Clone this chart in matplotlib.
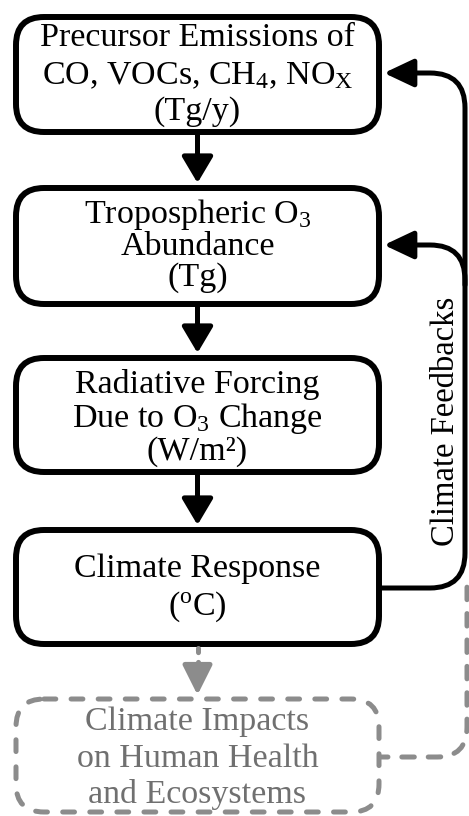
#!/usr/bin/env python

# imports
import matplotlib as mpl
from matplotlib import pyplot as plt
from matplotlib.patches import FancyBboxPatch, FancyArrowPatch, PathPatch, ArrowStyle
from matplotlib.path import Path

mpl.rcParams['font.family'] = ['Liberation Serif', 'DejaVu Serif']
mpl.rcParams['mathtext.fontset'] = 'custom'
mpl.rcParams['mathtext.rm'] = 'Liberation Serif'
mpl.rcParams['mathtext.it'] = 'Liberation Serif:italic'
mpl.rcParams['mathtext.bf'] = 'Liberation Serif:bold'
mpl.rcParams['lines.scale_dashes'] = False

# box contents, top to bottom
emission_lines = ["Precursor Emissions of",
                  r"CO, VOCs, CH$_\mathrm{4}$, NO$_\mathrm{X}$",
                  "(Tg/y)"]
ozone_lines = [r"Tropospheric O$_\mathrm{3}$", "Abundance", "(Tg)"]
forcing_lines = ["Radiative Forcing", r"Due to O$_\mathrm{3}$ Change", "(W/m²)"]
response_lines = ["Climate Response", r"($^\mathrm{o}$C)"]
impact_lines = ["Climate Impacts", "on Human Health", "and Ecosystems"]
box_lines = [emission_lines, ozone_lines, forcing_lines, response_lines, impact_lines]
feedback_label = "Climate Feedbacks"

# layout, in pixels, y grows downwards
W, H = 469, 816
BOX_X0, BOX_X1 = 16, 379
XC = 0.5*(BOX_X0 + BOX_X1)
BOX_Y = [(17, 132), (188, 304), (358, 472), (530, 644), (699, 812)]
BASELINES = [[46, 84, 120], [223, 255, 286], [393, 427, 460], [577, 615], [730, 767, 803]]
RADIUS = 28
FONTSIZE = 24.5
LW_BOX = 4.3
LW_LINE = 3.6
GREY = '#8c8c8c'
GREY_TEXT = '#707070'
BLACK_HEAD = ArrowStyle('-|>', head_length=16, head_width=9.5)
LOOP_HEAD = ArrowStyle('-|>', head_length=18, head_width=8.5)
GREY_HEAD = ArrowStyle('-|>', head_length=18, head_width=9)
DASH_BOX = (0, (8.5, 11))
DASH_LINE = (4, (9, 10))

fig = plt.figure(figsize=(W/100., H/100.), dpi=100)
ax = fig.add_axes([0, 0, 1, 1])
ax.set_xlim(0, W)
ax.set_ylim(H, 0)
ax.axis('off')

# boxes and their text
for i, (lines, (y0, y1), bases) in enumerate(zip(box_lines, BOX_Y, BASELINES)):
    last = (i == len(box_lines) - 1)
    box = FancyBboxPatch((BOX_X0, y0), BOX_X1 - BOX_X0, y1 - y0,
                         boxstyle="round,pad=0,rounding_size=%d" % RADIUS,
                         facecolor='white',
                         edgecolor=GREY if last else 'black',
                         lw=LW_LINE if last else LW_BOX,
                         ls=DASH_BOX if last else '-')
    if last:
        box.set_capstyle('round')
    ax.add_patch(box)
    for txt, yb in zip(lines, bases):
        ax.text(XC, yb, txt, ha='center', va='baseline', fontsize=FONTSIZE,
                color=GREY_TEXT if last else 'black')

# downward arrows between the black boxes
for (a0, a1), (b0, b1) in zip(BOX_Y[:3], BOX_Y[1:4]):
    ax.add_patch(FancyArrowPatch((XC, a1 + 2), (XC, b0 - 5), arrowstyle=BLACK_HEAD,
                                 mutation_scale=1, lw=LW_LINE, color='black',
                                 shrinkA=0, shrinkB=0))

# grey arrow to the impacts box
ax.plot([XC, XC], [BOX_Y[3][1] + 4, BOX_Y[4][0] - 22], color=GREY, lw=LW_LINE,
        ls=(0, (3, 7)), solid_capstyle='round', dash_capstyle='round')
ax.add_patch(FancyArrowPatch((XC, BOX_Y[4][0] - 32), (XC, BOX_Y[4][0] - 4),
                             arrowstyle=GREY_HEAD, mutation_scale=1, lw=LW_LINE,
                             color=GREY, shrinkA=0, shrinkB=0))

# climate feedback loop
XR = 465
ry = 0.5*(BOX_Y[3][0] + BOX_Y[3][1]) + 1
top_y = 73
mid_y = 245
r = 35
M, L, C = Path.MOVETO, Path.LINETO, Path.CURVE3
main = Path([(BOX_X1 + 3, ry), (XR - r, ry), (XR, ry), (XR, ry - r),
             (XR, top_y + r), (XR, top_y), (XR - r, top_y), (BOX_X1 + 5, top_y)],
            [M, L, C, C, L, C, C, L])
ax.add_patch(FancyArrowPatch(path=main, arrowstyle=LOOP_HEAD, mutation_scale=1,
                             lw=LW_LINE, color='black'))
branch = Path([(XR, mid_y + r + 5), (XR, mid_y + r), (XR, mid_y), (XR - r, mid_y),
               (BOX_X1 + 5, mid_y)], [M, L, C, C, L])
ax.add_patch(FancyArrowPatch(path=branch, arrowstyle=LOOP_HEAD, mutation_scale=1,
                             lw=LW_LINE, color='black'))
ax.text(446, 421, feedback_label, rotation=90, ha='center', va='center',
        fontsize=FONTSIZE - 1, color='black')

# grey dashed link from impacts box back up
gy = 757
grey = Path([(BOX_X1 + 2, gy), (XR + 2 - 30, gy), (XR + 2, gy), (XR + 2, gy - 30),
             (XR + 2, 575)], [M, L, C, C, L])
gp = PathPatch(grey, fill=False, edgecolor=GREY, lw=LW_LINE, ls=DASH_LINE)
gp.set_capstyle('round')
ax.add_patch(gp)

fig.savefig('out.png', dpi=100)
